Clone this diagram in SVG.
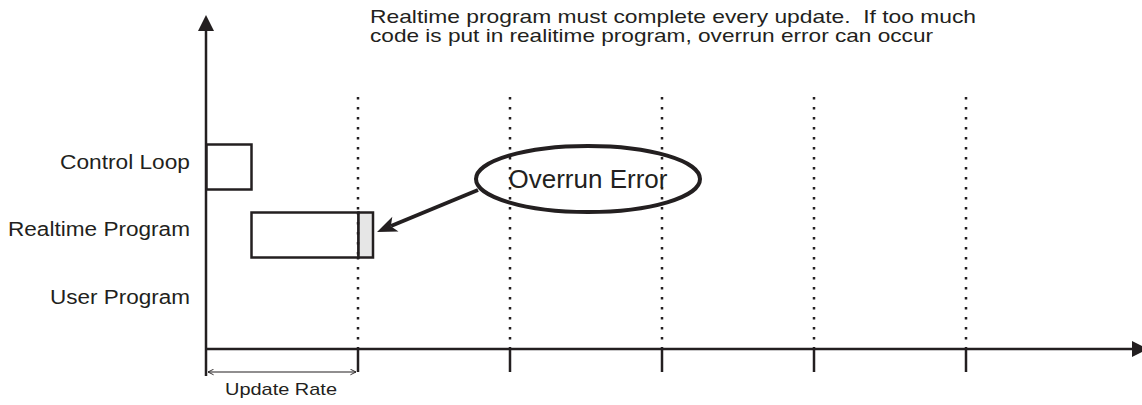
<svg xmlns="http://www.w3.org/2000/svg" width="1142" height="405" viewBox="0 0 1142 405">
<style>
.ax{stroke:#231f20;stroke-width:2.5;fill:none}
.tk{stroke:#231f20;stroke-width:2.5}
.dot{stroke:#231f20;stroke-width:2.5;stroke-dasharray:2.5 7.5;fill:none}
.box{stroke:#231f20;stroke-width:2.5;fill:#fff}
.t{font-family:"Liberation Sans",Arial,sans-serif;fill:#231f20}
.head{fill:#231f20;stroke:none}
</style>
<defs>
<marker id="chev" viewBox="0 0 10 10" refX="9" refY="5" markerWidth="7" markerHeight="7" orient="auto-start-reverse" markerUnits="userSpaceOnUse">
<path d="M1,1 L9,5 L1,9" fill="none" stroke="#231f20" stroke-width="1.3"/>
</marker>
</defs>
<g id="grid">
<line class="dot" x1="358" y1="97" x2="358" y2="349"/>
<line class="dot" x1="510" y1="97" x2="510" y2="349"/>
<line class="dot" x1="662" y1="97" x2="662" y2="349"/>
<line class="dot" x1="814" y1="97" x2="814" y2="349"/>
<line class="dot" x1="966" y1="97" x2="966" y2="349"/>
</g>
<g id="axes">
<line class="ax" x1="206" y1="28" x2="206" y2="376"/>
<polygon class="head" points="198,31 206,15 214,31"/>
<line class="ax" x1="206" y1="349" x2="1134" y2="349"/>
<polygon class="head" points="1132,341 1148,349 1132,357"/>
<line class="tk" x1="358" y1="349" x2="358" y2="372"/>
<line class="tk" x1="510" y1="349" x2="510" y2="372"/>
<line class="tk" x1="662" y1="349" x2="662" y2="372"/>
<line class="tk" x1="814" y1="349" x2="814" y2="372"/>
<line class="tk" x1="966" y1="349" x2="966" y2="372"/>
</g>
<g id="labels">
<text class="t" x="190" y="169" font-size="20" text-anchor="end" textLength="130" lengthAdjust="spacingAndGlyphs">Control Loop</text>
<text class="t" x="190" y="236" font-size="20" text-anchor="end" textLength="182" lengthAdjust="spacingAndGlyphs">Realtime Program</text>
<text class="t" x="190" y="304" font-size="20" text-anchor="end" textLength="140" lengthAdjust="spacingAndGlyphs">User Program</text>
</g>
<g id="note">
<text class="t" x="370" y="23" font-size="18.5" style="white-space:pre" textLength="606" lengthAdjust="spacingAndGlyphs">Realtime program must complete every update.  If too much</text>
<text class="t" x="370" y="42" font-size="18.5" textLength="563" lengthAdjust="spacingAndGlyphs">code is put in realitime program, overrun error can occur</text>
</g>
<g id="control-loop">
<rect class="box" x="206.5" y="144.5" width="45" height="45"/>
</g>
<g id="realtime-program">
<rect class="box" x="251.5" y="212.5" width="107" height="45"/>
<rect class="box" x="358.5" y="212.5" width="14.5" height="45" style="fill:#e6e6e6"/>
<line class="dot" x1="358" y1="212" x2="358" y2="258"/>
</g>
<g id="overrun-error">
<ellipse cx="588" cy="179" rx="112" ry="33" fill="none" stroke="#231f20" stroke-width="4"/>
<text class="t" x="588" y="188" font-size="26" text-anchor="middle">Overrun Error</text>
</g>
<g id="connectors">
<line x1="478" y1="190" x2="391" y2="226" stroke="#231f20" stroke-width="4"/>
<path class="head" d="M377,232 L392.3,216.8 L390.8,226.2 L398.5,231.6 Z"/>
<line x1="208" y1="372" x2="356" y2="372" stroke="#231f20" stroke-width="1.2" marker-start="url(#chev)" marker-end="url(#chev)"/>
<text class="t" x="281" y="395" font-size="17" text-anchor="middle" textLength="112" lengthAdjust="spacingAndGlyphs">Update Rate</text>
</g>
</svg>
